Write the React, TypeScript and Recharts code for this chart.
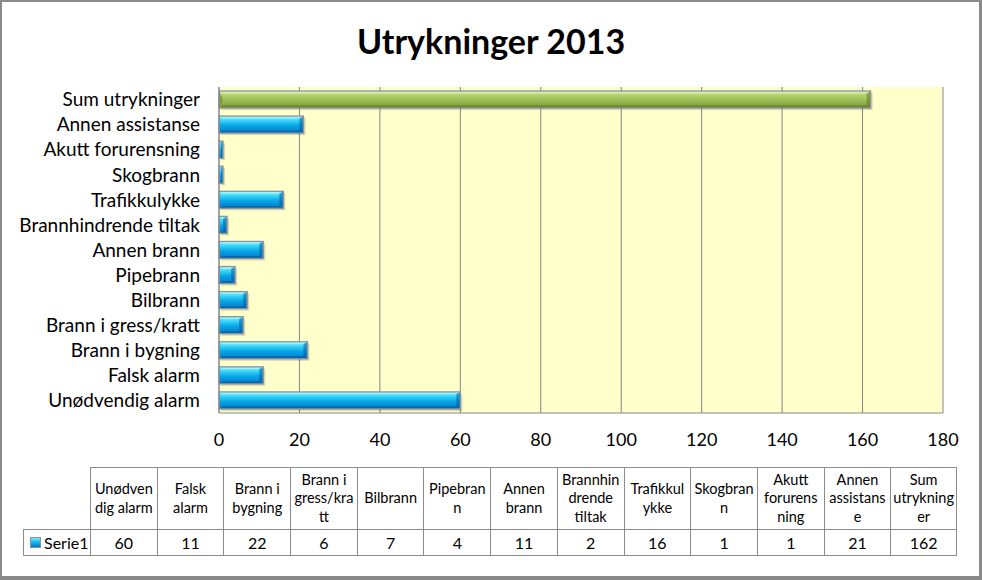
import React from 'react';
import { BarChart, Bar, XAxis, YAxis, CartesianGrid } from 'recharts';

const categories = [
  'Unødvendig alarm',
  'Falsk alarm',
  'Brann i bygning',
  'Brann i gress/kratt',
  'Bilbrann',
  'Pipebrann',
  'Annen brann',
  'Brannhindrende tiltak',
  'Trafikkulykke',
  'Skogbrann',
  'Akutt forurensning',
  'Annen assistanse',
  'Sum utrykninger',
];
const values = [60, 11, 22, 6, 7, 4, 11, 2, 16, 1, 1, 21, 162];
const xTicks = [0, 20, 40, 60, 80, 100, 120, 140, 160, 180];
const tableHeaderLines = [
  ['Unødven', 'dig alarm'],
  ['Falsk', 'alarm'],
  ['Brann i', 'bygning'],
  ['Brann i', 'gress/kra', 'tt'],
  ['Bilbrann'],
  ['Pipebran', 'n'],
  ['Annen', 'brann'],
  ['Brannhin', 'drende', 'tiltak'],
  ['Trafikkul', 'ykke'],
  ['Skogbran', 'n'],
  ['Akutt', 'forurens', 'ning'],
  ['Annen', 'assistans', 'e'],
  ['Sum', 'utrykning', 'er'],
];
const seriesName = 'Serie1';
const title = 'Utrykninger 2013';
const totalCategory = 'Sum utrykninger';

const data = categories.map((name, i) => ({ name, value: values[i] }));

const FONT = 'Lato, "Open Sans", sans-serif';

const BevelBar = (props: any) => {
  const { x, y, width, height, payload } = props;
  if (width <= 0 || height <= 0) return null;
  const isSum = payload && payload.name === totalCategory;
  const grad = isSum ? 'url(#gGreen)' : 'url(#gBlue)';
  const b = Math.min(4, width / 2, height / 2);
  const darkEdge = isSum ? '#5f7a2a' : '#0a5a9a';
  const lightEdge = isSum ? '#d8ecaa' : '#9ff4ff';
  return (
    <g>
      <rect x={x + 2} y={y + 2} width={width} height={height} fill="rgba(0,0,0,0.16)" />
      <rect x={x} y={y} width={width} height={height} fill={grad} />
      <polygon
        points={`${x},${y} ${x + width},${y} ${x + width - b},${y + b * 0.6} ${x + b},${y + b * 0.6}`}
        fill={lightEdge}
        opacity={0.85}
      />
      <polygon
        points={`${x + b},${y + height - b * 0.6} ${x + width - b},${y + height - b * 0.6} ${x + width},${y + height} ${x},${y + height}`}
        fill={darkEdge}
        opacity={0.7}
      />
      <polygon
        points={`${x + width - b},${y + b * 0.6} ${x + width},${y} ${x + width},${y + height} ${x + width - b},${y + height - b * 0.6}`}
        fill={darkEdge}
        opacity={0.55}
      />
      {isSum && (
        <polygon
          points={`${x},${y} ${x + b},${y + height / 2} ${x},${y + height}`}
          fill={darkEdge}
          opacity={0.5}
        />
      )}
      <rect x={x} y={y} width={width} height={height} fill="none" stroke="#8a93a6" strokeWidth={1.3} />
    </g>
  );
};

const TABLE_LEFT = 90;
const TABLE_RIGHT = 957;
const HEADER_TOP = 467;
const HEADER_BOTTOM = 529;
const ROW_BOTTOM = 556;
const LEGEND_LEFT = 23;
const BORDER = '1px solid #8c8c8c';

const DataTable = () => {
  const n = categories.length;
  const colW = (TABLE_RIGHT - TABLE_LEFT) / n;
  const cells: React.ReactNode[] = [];
  for (let i = 0; i < n; i++) {
    const left = TABLE_LEFT + i * colW;
    cells.push(
      <div
        key={'h' + i}
        style={{
          position: 'absolute',
          left,
          top: HEADER_TOP,
          width: colW,
          height: HEADER_BOTTOM - HEADER_TOP,
          borderLeft: BORDER,
          borderTop: BORDER,
          borderRight: i === n - 1 ? BORDER : 'none',
          boxSizing: 'border-box',
          display: 'flex',
          flexDirection: 'column',
          justifyContent: 'center',
          alignItems: 'center',
          fontSize: 14.5,
          lineHeight: '18.5px',
          textAlign: 'center',
          whiteSpace: 'nowrap',
          overflow: 'hidden',
        }}
      >
        {tableHeaderLines[i].map((l, k) => (
          <div key={k}>{l}</div>
        ))}
      </div>
    );
    cells.push(
      <div
        key={'v' + i}
        style={{
          position: 'absolute',
          left,
          top: HEADER_BOTTOM,
          width: colW,
          height: ROW_BOTTOM - HEADER_BOTTOM,
          borderLeft: BORDER,
          borderTop: BORDER,
          borderBottom: BORDER,
          borderRight: i === n - 1 ? BORDER : 'none',
          boxSizing: 'border-box',
          display: 'flex',
          justifyContent: 'center',
          alignItems: 'center',
          fontSize: 16,
        }}
      >
        {values[i]}
      </div>
    );
  }
  cells.push(
    <div
      key="legend"
      style={{
        position: 'absolute',
        left: LEGEND_LEFT,
        top: HEADER_BOTTOM,
        width: TABLE_LEFT - LEGEND_LEFT + 1,
        height: ROW_BOTTOM - HEADER_BOTTOM,
        borderLeft: BORDER,
        borderTop: BORDER,
        borderBottom: BORDER,
        boxSizing: 'border-box',
        display: 'flex',
        alignItems: 'center',
        paddingLeft: 6,
        fontSize: 16,
      }}
    >
      <svg width={12} height={12} style={{ marginRight: 2 }}>
        <rect x={0.5} y={0.5} width={10} height={10} fill="url(#gBlueIcon)" stroke="#8a93a6" />
      </svg>
      {seriesName}
    </div>
  );
  return <>{cells}</>;
};

export default function App() {
  return (
    <div
      style={{
        position: 'absolute',
        left: 0,
        top: 0,
        width: 982,
        height: 580,
        background: '#fff',
        fontFamily: FONT,
        color: '#000',
      }}
    >
      <svg width={0} height={0} style={{ position: 'absolute' }}>
        <defs>
          <linearGradient id="gBlueIcon" x1="0" y1="0" x2="0" y2="1">
            <stop offset="0" stopColor="#7ff0ff" />
            <stop offset="0.5" stopColor="#10b4ec" />
            <stop offset="1" stopColor="#0070c0" />
          </linearGradient>
        </defs>
      </svg>
      <div
        style={{
          position: 'absolute',
          left: 0,
          top: 19,
          width: 982,
          textAlign: 'center',
          fontSize: 34,
          fontWeight: 700,
          lineHeight: '44px',
        }}
      >
        {title}
      </div>
      <div style={{ position: 'absolute', left: 0, top: 0 }}>
        <BarChart
          width={982}
          height={580}
          data={data}
          layout="vertical"
          margin={{ top: 87, right: 39, bottom: 127, left: 19 }}
          barSize={17}
        >
          <defs>
            <linearGradient id="gBlue" x1="0" y1="0" x2="0" y2="1">
              <stop offset="0" stopColor="#8af4ff" />
              <stop offset="0.25" stopColor="#3ad6f8" />
              <stop offset="0.55" stopColor="#0aa6e6" />
              <stop offset="1" stopColor="#0078c8" />
            </linearGradient>
            <linearGradient id="gGreen" x1="0" y1="0" x2="0" y2="1">
              <stop offset="0" stopColor="#e2f0b6" />
              <stop offset="0.25" stopColor="#b2d06a" />
              <stop offset="0.6" stopColor="#98b852" />
              <stop offset="1" stopColor="#78983a" />
            </linearGradient>
          </defs>
          <CartesianGrid
            horizontal={false}
            vertical={true}
            stroke="#868686"
            fill="#FFFFCC"
            fillOpacity={1}
          />
          <XAxis
            type="number"
            domain={[0, 180]}
            ticks={xTicks}
            interval={0}
            tickLine={false}
            tickSize={6}
            tickMargin={14}
            axisLine={{ stroke: '#868686' }}
            height={40}
            tick={{ fontSize: 18, fill: '#000', fontFamily: FONT }}
          />
          <YAxis
            type="category"
            dataKey="name"
            reversed
            width={200}
            interval={0}
            tickLine={false}
            tickSize={6}
            tickMargin={13}
            axisLine={{ stroke: '#868686' }}
            tick={{ fontSize: 19, fill: '#000', fontFamily: FONT }}
          />
          <Bar dataKey="value" isAnimationActive={false} shape={<BevelBar />} />
        </BarChart>
      </div>
      <DataTable />
      <div
        style={{
          position: 'absolute',
          left: 0,
          top: 0,
          width: 982,
          height: 580,
          boxSizing: 'border-box',
          borderLeft: '2px solid #8a8a8a',
          borderTop: '2px solid #8a8a8a',
          borderRight: '3px solid #8a8a8a',
          borderBottom: '4px solid #8a8a8a',
          pointerEvents: 'none',
        }}
      />
    </div>
  );
}
